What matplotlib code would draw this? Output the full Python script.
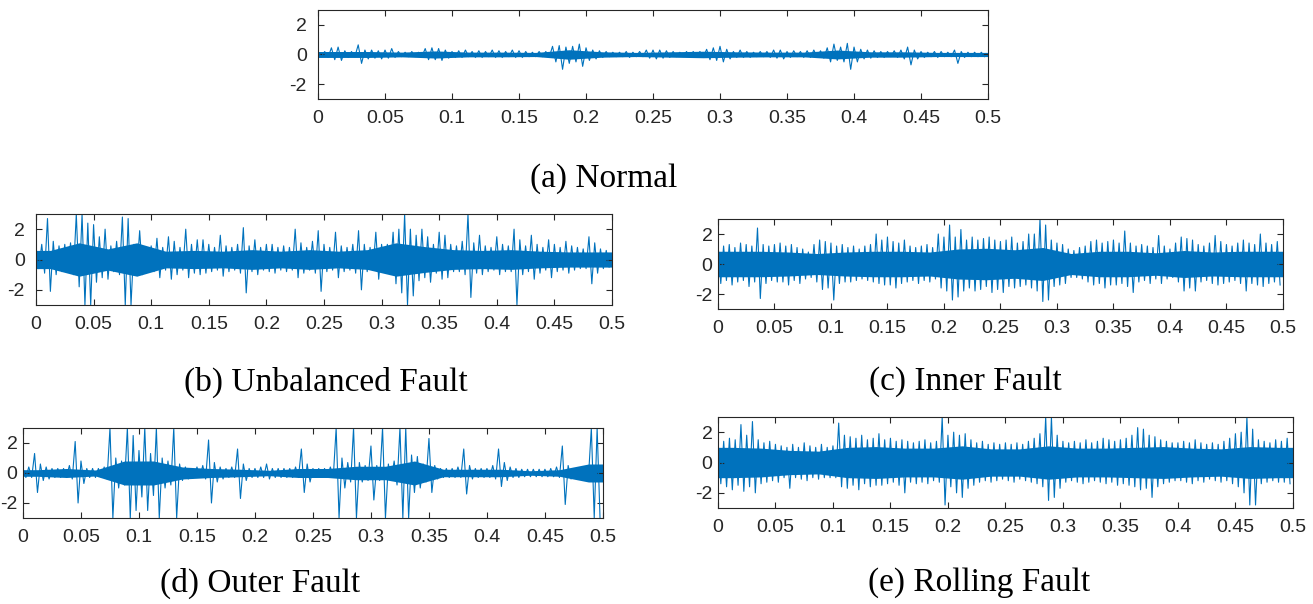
import numpy as np
import matplotlib.pyplot as plt

# sample step of the peak readings (s)
step = 0.005
# step of the dense core-band readings (s)
core_step = 0.025

# (a) Normal - upper / lower peaks per 5 ms bin
normal_hi = [0.15, 0.2, 0.45, 0.5, 0.25, 0.2, 0.65, 0.3, 0.3, 0.25,
             0.3, 0.4, 0.2, 0.15, 0.2, 0.15, 0.4, 0.45, 0.4, 0.3,
             0.2, 0.25, 0.3, 0.2, 0.25, 0.2, 0.3, 0.25, 0.2, 0.3,
             0.25, 0.2, 0.15, 0.2, 0.2, 0.55, 0.6, 0.5, 0.55, 0.7,
             0.45, 0.3, 0.25, 0.2, 0.15, 0.15, 0.2, 0.15, 0.2, 0.3,
             0.3, 0.3, 0.25, 0.2, 0.15, 0.2, 0.2, 0.2, 0.35, 0.45,
             0.55, 0.35, 0.2, 0.3, 0.2, 0.15, 0.2, 0.2, 0.3, 0.3,
             0.2, 0.25, 0.2, 0.25, 0.3, 0.25, 0.45, 0.7, 0.5, 0.75,
             0.5, 0.35, 0.3, 0.25, 0.2, 0.2, 0.25, 0.3, 0.5, 0.3,
             0.2, 0.15, 0.2, 0.2, 0.15, 0.3, 0.2, 0.15, 0.15, 0.15]
normal_lo = [-0.15, -0.2, -0.35, -0.4, -0.2, -0.15, -0.6, -0.3, -0.25, -0.3,
             -0.25, -0.2, -0.15, -0.15, -0.15, -0.15, -0.35, -0.35, -0.4, -0.25,
             -0.2, -0.2, -0.15, -0.2, -0.2, -0.15, -0.2, -0.2, -0.15, -0.2,
             -0.2, -0.15, -0.15, -0.15, -0.2, -0.5, -1.0, -0.6, -0.5, -0.8,
             -0.4, -0.3, -0.2, -0.15, -0.15, -0.15, -0.2, -0.15, -0.15, -0.25,
             -0.3, -0.25, -0.2, -0.15, -0.15, -0.15, -0.15, -0.2, -0.35, -0.4,
             -0.5, -0.3, -0.2, -0.2, -0.2, -0.15, -0.15, -0.2, -0.25, -0.3,
             -0.2, -0.15, -0.2, -0.2, -0.2, -0.25, -0.5, -0.4, -0.5, -1.0,
             -0.5, -0.3, -0.25, -0.2, -0.2, -0.15, -0.2, -0.3, -0.7, -0.3,
             -0.2, -0.15, -0.2, -0.15, -0.15, -0.6, -0.2, -0.15, -0.15, -0.15]
normal_core = [0.2, 0.2, 0.16, 0.24, 0.16, 0.16, 0.14, 0.32, 0.18, 0.14,
               0.18, 0.22, 0.18, 0.16, 0.16, 0.3, 0.18, 0.18, 0.14, 0.14]

# (b) Unbalanced fault
unbal_hi = [0.8, 1.0, 2.7, 1.2, 0.9, 1.0, 1.1, 3.0, 3.0, 2.4,
            2.3, 1.5, 2.0, 0.9, 1.2, 2.8, 2.7, 1.0, 1.9, 0.8,
            0.9, 1.4, 0.8, 1.5, 1.2, 0.8, 2.0, 1.0, 1.3, 1.3,
            1.0, 0.8, 1.6, 0.9, 0.8, 1.0, 2.1, 0.9, 1.3, 0.8,
            1.0, 1.0, 0.8, 0.9, 0.8, 2.0, 1.1, 0.8, 1.2, 1.9,
            1.0, 0.8, 1.8, 0.9, 0.8, 1.0, 1.9, 1.0, 0.8, 1.8,
            1.0, 1.0, 1.8, 2.0, 3.0, 2.0, 1.6, 2.0, 1.5, 1.0,
            1.8, 1.6, 1.0, 0.9, 1.2, 3.0, 1.1, 1.6, 0.9, 0.8,
            1.5, 1.0, 0.9, 2.0, 1.3, 0.9, 1.6, 1.0, 0.8, 1.3,
            1.0, 0.8, 1.2, 0.9, 0.8, 0.7, 1.5, 1.1, 0.7, 0.6]
unbal_lo = [-0.6, -0.9, -2.1, -1.0, -0.8, -0.8, -1.0, -1.8, -3.0, -3.0,
            -1.5, -1.2, -1.3, -0.8, -1.0, -3.0, -3.0, -0.9, -1.0, -0.7,
            -0.8, -1.2, -0.7, -1.3, -1.0, -0.7, -1.2, -0.9, -1.0, -0.9,
            -0.8, -0.7, -1.1, -0.8, -0.7, -0.9, -2.2, -0.8, -1.0, -0.7,
            -0.8, -0.9, -0.7, -0.8, -0.7, -1.2, -0.9, -0.7, -0.9, -2.1,
            -0.8, -0.7, -1.2, -0.8, -0.7, -0.9, -2.0, -0.8, -0.7, -1.3,
            -0.8, -0.9, -1.6, -2.2, -3.0, -2.4, -1.4, -1.2, -1.5, -0.9,
            -1.3, -1.2, -0.8, -0.8, -1.0, -2.5, -0.9, -1.0, -0.8, -0.7,
            -1.0, -0.8, -0.8, -3.0, -1.0, -0.8, -1.3, -0.9, -0.7, -1.2,
            -0.8, -0.7, -0.9, -0.7, -0.6, -0.6, -1.6, -0.9, -0.6, -0.5]
unbal_core = [0.6, 1.1, 0.7, 1.1, 0.55, 0.6, 0.55, 0.65, 0.55, 0.65,
              0.55, 0.65, 1.1, 0.85, 0.65, 0.6, 0.65, 0.55, 0.5, 0.5]

# (c) Inner fault
inner_hi = [1.4, 1.2, 1.3, 1.1, 1.4, 1.3, 1.2, 2.4, 1.3, 1.2,
            1.3, 1.4, 1.2, 1.3, 1.1, 1.0, 0.8, 1.3, 1.6, 1.5,
            1.4, 1.2, 1.3, 1.1, 1.2, 1.0, 1.2, 1.3, 2.0, 1.6,
            1.8, 1.5, 1.4, 1.6, 1.2, 1.1, 1.2, 1.3, 1.1, 2.0,
            1.8, 2.6, 1.8, 2.3, 1.6, 1.8, 1.6, 1.7, 1.8, 1.6,
            1.5, 1.6, 1.8, 1.4, 1.5, 2.0, 2.0, 3.0, 2.6, 1.6,
            1.4, 1.3, 1.0, 0.9, 1.1, 1.2, 1.5, 1.6, 1.4, 1.5,
            1.6, 1.4, 2.2, 1.4, 1.2, 1.3, 1.2, 1.1, 1.9, 1.2,
            1.0, 1.4, 1.8, 1.7, 1.6, 1.3, 1.2, 1.4, 1.9, 1.5,
            1.3, 1.2, 1.4, 1.6, 1.4, 1.3, 2.0, 1.4, 1.3, 1.5]
inner_lo = [-1.3, -1.1, -1.4, -1.2, -1.1, -1.5, -1.2, -2.3, -1.3, -1.1,
            -1.2, -1.2, -1.4, -1.1, -1.3, -1.0, -0.9, -1.2, -1.7, -1.6,
            -2.4, -1.3, -1.2, -1.2, -1.1, -1.0, -1.1, -1.2, -1.3, -1.4,
            -1.4, -1.6, -1.3, -1.2, -1.1, -1.3, -1.1, -1.2, -1.0, -1.6,
            -1.8, -2.4, -2.2, -1.8, -1.6, -1.8, -1.7, -1.5, -1.9, -1.7,
            -1.9, -1.5, -1.6, -1.5, -1.4, -1.6, -1.8, -2.5, -2.4, -1.5,
            -1.4, -1.3, -0.9, -0.9, -1.0, -1.2, -1.4, -1.3, -1.6, -1.4,
            -1.4, -1.3, -1.5, -1.9, -1.2, -1.1, -1.3, -1.0, -1.3, -1.0,
            -0.9, -1.2, -1.8, -1.6, -1.8, -1.2, -1.1, -1.3, -1.4, -1.3,
            -1.2, -1.1, -1.3, -1.8, -1.3, -1.4, -1.5, -1.3, -1.2, -1.4]
inner_core = [0.85, 0.85, 0.8, 0.7, 0.8, 0.85, 0.85, 0.8, 1.0, 1.05,
              0.95, 1.1, 0.7, 0.85, 0.85, 0.75, 0.9, 0.8, 0.85, 0.85]

# (d) Outer fault
outer_hi = [0.3, 0.4, 1.3, 0.6, 0.4, 0.3, 0.3, 0.3, 0.5, 2.1,
            0.8, 0.3, 0.3, 0.3, 0.4, 3.0, 1.0, 0.8, 3.0, 2.5,
            1.5, 3.0, 1.3, 3.0, 1.0, 0.8, 3.0, 0.6, 0.4, 0.3,
            0.4, 0.5, 2.2, 0.7, 0.4, 0.3, 0.4, 1.6, 0.6, 0.3,
            0.3, 0.4, 0.6, 0.3, 0.3, 0.3, 0.3, 0.4, 1.6, 0.6,
            0.3, 0.3, 0.3, 0.4, 3.0, 1.0, 0.7, 3.0, 0.7, 0.5,
            1.8, 0.5, 3.0, 0.6, 0.8, 3.0, 3.0, 1.2, 1.1, 0.6,
            2.3, 0.5, 0.3, 0.3, 0.3, 0.4, 1.6, 0.5, 0.3, 0.3,
            0.3, 0.5, 1.6, 0.7, 0.4, 0.3, 0.25, 0.25, 0.25, 0.25,
            0.25, 0.3, 0.4, 1.8, 0.5, 0.3, 0.3, 0.3, 3.0, 3.0]
outer_lo = [-0.3, -0.3, -1.3, -0.5, -0.4, -0.3, -0.3, -0.3, -0.4, -2.0,
            -0.7, -0.3, -0.3, -0.3, -0.4, -3.0, -1.0, -0.8, -3.0, -2.5,
            -1.6, -2.5, -1.5, -3.0, -1.0, -0.8, -3.0, -0.5, -0.4, -0.3,
            -0.3, -0.4, -2.0, -0.6, -0.4, -0.3, -0.3, -1.7, -0.5, -0.3,
            -0.3, -0.3, -0.4, -0.3, -0.3, -0.3, -0.3, -0.3, -1.3, -0.6,
            -0.3, -0.3, -0.3, -0.3, -3.0, -1.0, -0.6, -3.0, -0.6, -0.5,
            -1.8, -0.5, -3.0, -0.5, -0.8, -3.0, -3.0, -1.3, -1.0, -0.6,
            -1.3, -0.4, -0.3, -0.3, -0.3, -0.3, -1.4, -0.4, -0.3, -0.3,
            -0.3, -0.4, -0.9, -0.5, -0.3, -0.3, -0.25, -0.25, -0.25, -0.25,
            -0.25, -0.25, -0.3, -2.1, -0.4, -0.3, -0.3, -0.3, -3.0, -3.0]
outer_core = [0.22, 0.3, 0.2, 0.8, 0.8, 0.4, 0.3, 0.25, 0.18, 0.3,
              0.3, 0.45, 0.45, 0.8, 0.25, 0.25, 0.25, 0.15, 0.22, 0.6]

# (e) Rolling fault
rolling_hi = [1.5, 1.4, 1.6, 1.5, 2.5, 1.8, 2.7, 1.5, 1.3, 1.4,
              1.2, 1.1, 1.0, 1.2, 1.0, 1.3, 1.1, 1.0, 1.2, 1.0,
              1.1, 2.6, 1.8, 1.7, 1.6, 1.8, 1.5, 1.6, 1.9, 1.5,
              1.6, 1.4, 1.5, 1.4, 1.3, 1.4, 1.5, 1.3, 1.4, 3.0,
              1.8, 2.0, 1.8, 1.9, 1.5, 1.3, 1.4, 1.2, 1.3, 1.2,
              1.3, 1.2, 1.3, 1.2, 1.4, 1.6, 1.9, 3.0, 3.0, 1.8,
              1.4, 1.3, 1.4, 1.3, 1.5, 1.3, 1.4, 1.6, 1.5, 1.4,
              1.5, 1.6, 1.8, 2.3, 2.2, 1.8, 1.7, 1.5, 1.4, 1.3,
              1.3, 1.4, 1.3, 1.5, 1.3, 1.2, 1.3, 1.2, 1.4, 1.6,
              1.9, 2.0, 3.0, 2.2, 1.5, 1.4, 1.3, 1.5, 1.4, 1.6]
rolling_lo = [-1.4, -1.6, -1.8, -1.5, -1.9, -1.6, -2.0, -1.4, -1.3, -1.2,
              -1.3, -1.0, -1.7, -1.0, -1.1, -1.2, -1.0, -1.1, -1.0, -1.0,
              -1.0, -1.6, -1.7, -1.5, -1.8, -1.4, -1.6, -1.5, -1.5, -1.4,
              -1.3, -1.5, -2.0, -1.3, -1.4, -1.3, -1.4, -1.2, -1.3, -2.8,
              -1.6, -2.0, -2.3, -1.7, -1.5, -1.3, -1.2, -1.3, -1.2, -1.1,
              -1.2, -1.3, -1.1, -1.2, -1.3, -1.4, -1.6, -2.5, -2.3, -1.7,
              -1.3, -1.2, -1.3, -1.4, -1.3, -1.2, -1.3, -1.4, -1.3, -1.5,
              -1.4, -1.5, -1.6, -1.8, -1.7, -2.3, -1.6, -1.4, -1.3, -1.2,
              -1.2, -1.3, -1.4, -1.2, -1.3, -1.1, -1.2, -1.3, -1.2, -1.4,
              -1.6, -2.0, -2.8, -2.8, -1.4, -1.3, -1.2, -1.3, -1.3, -1.4]
rolling_core = [1.0, 0.95, 0.8, 0.75, 1.0, 1.05, 0.95, 0.95, 1.1, 0.9,
                0.9, 1.1, 0.95, 0.95, 1.0, 1.05, 0.95, 0.9, 1.05, 1.0]

captions = ['(a) Normal', '(b) Unbalanced Fault', '(c) Inner Fault',
            '(d) Outer Fault', '(e) Rolling Fault']
xticks = [0, 0.05, 0.1, 0.15, 0.2, 0.25, 0.3, 0.35, 0.4, 0.45, 0.5]
xticklabels = ['0', '0.05', '0.1', '0.15', '0.2', '0.25', '0.3', '0.35',
               '0.4', '0.45', '0.5']
yticks = [-2, 0, 2]

line_color = '#0072BD'
axis_color = '#262626'


def zigzag(hi, lo):
    # alternate between the upper and lower peak of each bin
    t = np.arange(len(hi)) * step
    x = np.empty(2 * len(hi))
    y = np.empty(2 * len(hi))
    x[0::2] = t
    x[1::2] = t + step / 2
    y[0::2] = hi
    y[1::2] = lo
    return x, y


def draw_panel(fig, rect, hi, lo, core, caption, cap_xy, ypad):
    ax = fig.add_axes(rect)
    x, y = zigzag(hi, lo)
    ax.plot(x, y, color=line_color, lw=0.8)
    # dense part of the signal, one reading at the centre of each 25 ms bin
    tc = np.concatenate([[0], (np.arange(len(core)) + 0.5) * core_step, [0.5]])
    c = np.concatenate([[core[0]], core, [core[-1]]])
    ax.fill_between(tc, -c, c, color=line_color, lw=0)
    ax.set_xlim(0, 0.5)
    ax.set_ylim(-3, 3)
    ax.set_xticks(xticks)
    ax.set_xticklabels(xticklabels)
    ax.set_yticks(yticks)
    ax.tick_params(direction='in', length=4, width=0.8, colors=axis_color,
                   labelsize=14, top=True, right=True)
    ax.tick_params(axis='x', pad=8)
    ax.tick_params(axis='y', pad=ypad)
    for s in ax.spines.values():
        s.set_color(axis_color)
        s.set_linewidth(0.8)
    fig.text(cap_xy[0], cap_xy[1], caption, ha='center', va='center',
             fontsize=24, family='Liberation Serif')
    return ax


plt.rcParams['font.family'] = ['Liberation Sans', 'DejaVu Sans']
plt.rcParams['axes.unicode_minus'] = False

fig = plt.figure(figsize=(13.13, 6.04), dpi=100)

draw_panel(fig, [0.2422, 0.8361, 0.5103, 0.1474], normal_hi, normal_lo,
           normal_core, captions[0], (0.460, 0.705), 8)
draw_panel(fig, [0.0274, 0.4950, 0.4387, 0.1507], unbal_hi, unbal_lo,
           unbal_core, captions[1], (0.248, 0.3675), 8)
draw_panel(fig, [0.5468, 0.4884, 0.4303, 0.1490], inner_hi, inner_lo,
           inner_core, captions[2], (0.735, 0.3675), 4)
draw_panel(fig, [0.0175, 0.1424, 0.4417, 0.1490], outer_hi, outer_lo,
           outer_core, captions[3], (0.198, 0.0348), 4)
draw_panel(fig, [0.5468, 0.1589, 0.4379, 0.1507], rolling_hi, rolling_lo,
           rolling_core, captions[4], (0.746, 0.0348), 4)

fig.savefig('out.png', dpi=100)
